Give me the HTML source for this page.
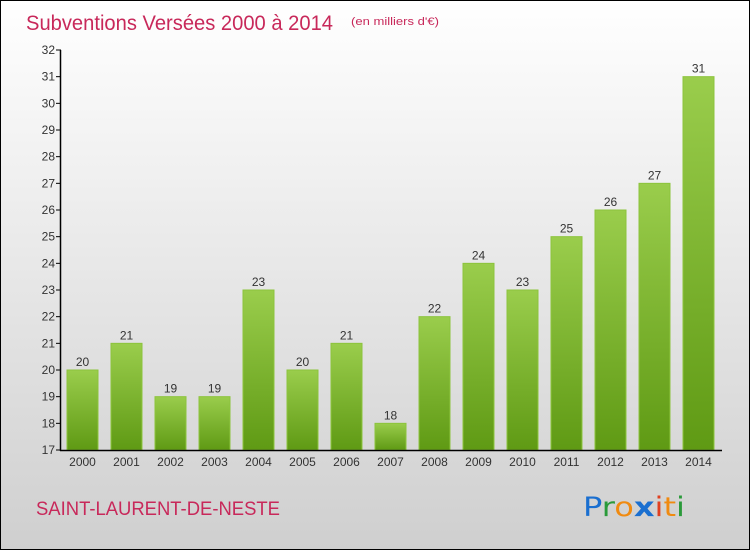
<!DOCTYPE html>
<html><head><meta charset="utf-8"><style>
body{margin:0}
#c{width:750px;height:550px;position:relative;font-family:"Liberation Sans",sans-serif}
</style></head><body>
<div id="c">
<svg width="750" height="550" xmlns="http://www.w3.org/2000/svg" id="svg">
<defs>
<linearGradient id="bg" x1="0" y1="0" x2="0" y2="1"><stop offset="0" stop-color="#ffffff"/><stop offset="1" stop-color="#cfcfcf"/></linearGradient>
<linearGradient id="bar" x1="0" y1="0" x2="0" y2="1"><stop offset="0" stop-color="#9acd4c"/><stop offset="1" stop-color="#5f9a14"/></linearGradient>
</defs>
<rect x="0.5" y="0.5" width="749" height="549" fill="url(#bg)" stroke="#000"/>
<text x="26" y="30" font-size="21" fill="#c8285a" textLength="307" lengthAdjust="spacingAndGlyphs">Subventions Versées 2000 à 2014</text>
<text x="351" y="25" font-size="11" fill="#c8285a" textLength="88" lengthAdjust="spacingAndGlyphs">(en milliers d'€)</text>
<text x="36" y="515" font-size="19" fill="#c8285a" textLength="244" lengthAdjust="spacingAndGlyphs">SAINT-LAURENT-DE-NESTE</text>
<text x="583" y="516" font-size="27" font-family="'DejaVu Sans',sans-serif" textLength="102" lengthAdjust="spacingAndGlyphs"><tspan fill="#1a6fd0">P</tspan><tspan fill="#2a9a3a">r</tspan><tspan fill="#f08a10">o</tspan><tspan fill="#1a6fd0" font-weight="bold">x</tspan><tspan fill="#e04020">i</tspan><tspan fill="#f08a10">t</tspan><tspan fill="#2a9a3a">i</tspan></text>
<g id="plot"></g>
</svg>
</div>
<script>
const years=["2000","2001","2002","2003","2004","2005","2006","2007","2008","2009","2010","2011","2012","2013","2014"];
const values=[20,21,19,19,23,20,21,18,22,24,23,25,26,27,31];
const yTicks=[17,18,19,20,21,22,23,24,25,26,27,28,29,30,31,32];
const NS="http://www.w3.org/2000/svg";
const g=document.getElementById('plot');
const y0=17,y1=32,py0=450,py1=50;
const Y=v=>py0-(v-y0)*(py0-py1)/(y1-y0);
const X=i=>82.5+i*44;
function el(t,a){const e=document.createElementNS(NS,t);for(const k in a)e.setAttribute(k,a[k]);g.appendChild(e);return e;}
yTicks.forEach(t=>{
 const l=el('line',{x1:56,x2:61,y1:Y(t),y2:Y(t),stroke:'#000'});
 
 
 const tx=el('text',{x:55,y:Y(t)+4,'font-size':12,'text-anchor':'end',fill:'#333'});
 tx.textContent=t;
 
 
});
values.forEach((v,i)=>{
 const r=el('rect',{x:X(i)-15.5,y:Y(v),width:31,height:Y(y0)-Y(v),fill:'url(#bar)',stroke:'#8cc43c','stroke-width':1});
 
 
 const vt=el('text',{x:X(i),y:Y(v)-4,'font-size':12,'text-anchor':'middle',fill:'#333'});
 vt.textContent=v;
 
 
 const xt=el('text',{x:X(i),y:466,'font-size':12,'text-anchor':'middle',fill:'#333'});
 xt.textContent=years[i];
 
 
});
const ya=el('line',{x1:60.5,x2:60.5,y1:50,y2:451,stroke:'#000','stroke-width':1.5});


const xa=el('line',{x1:60,x2:722,y1:450.5,y2:450.5,stroke:'#000','stroke-width':1.5});


</script>
</body></html>
